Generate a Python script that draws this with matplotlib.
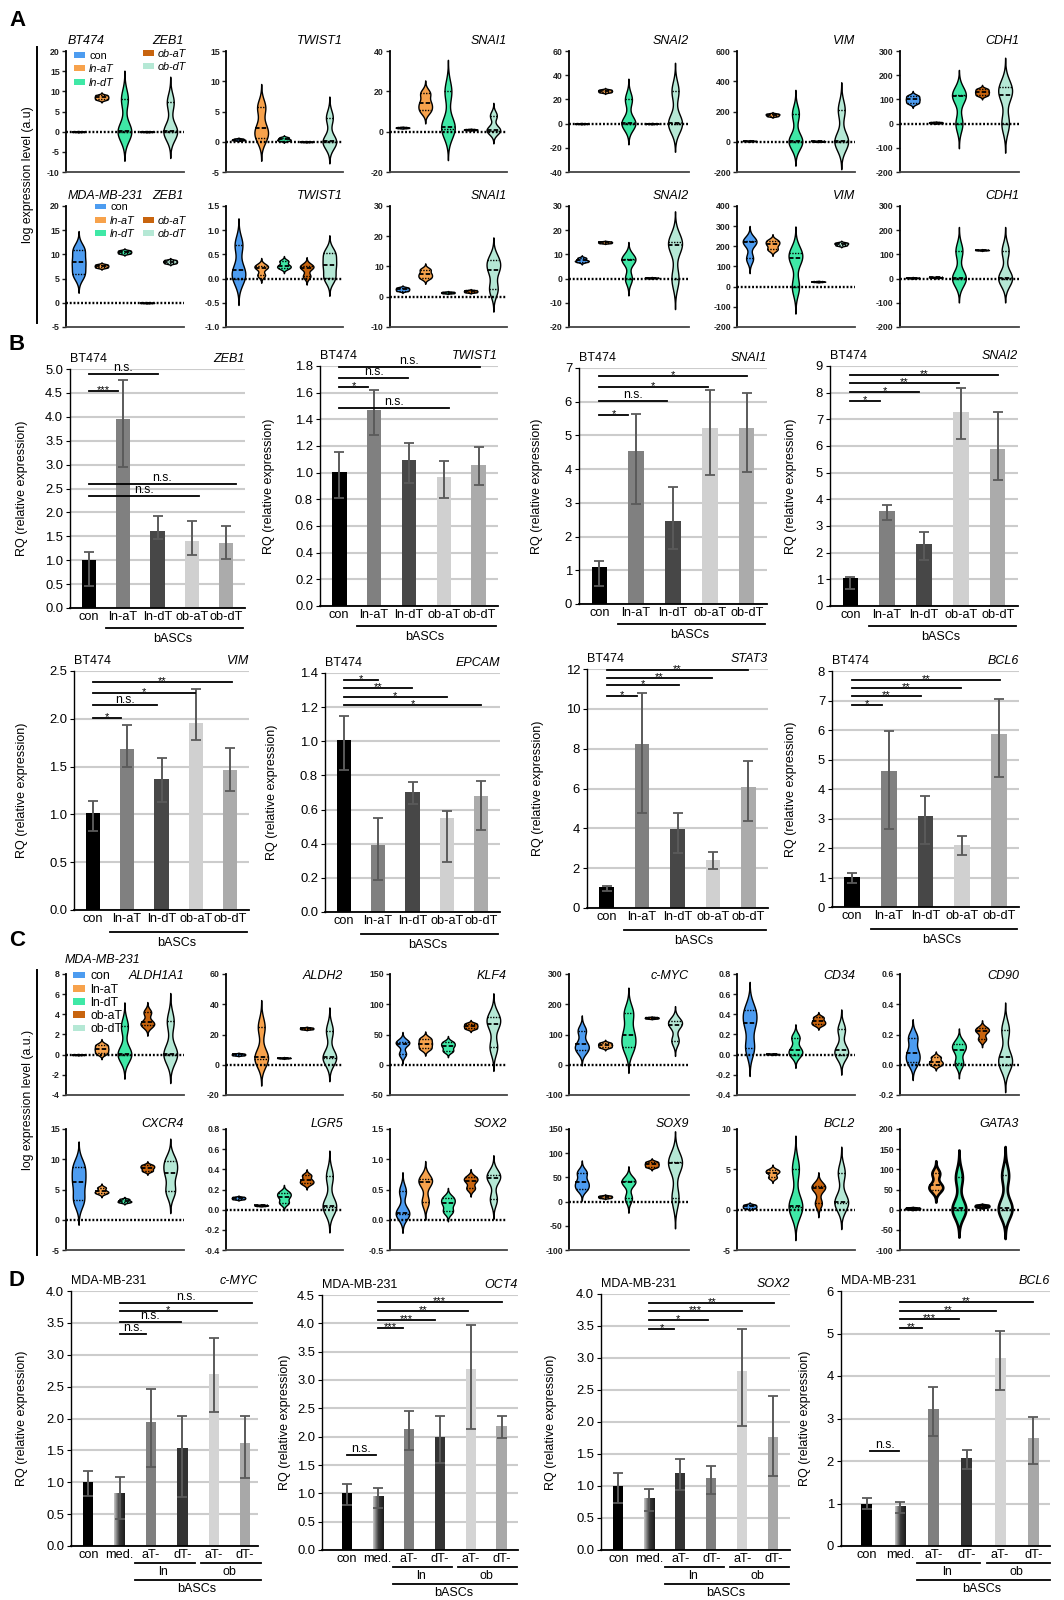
import numpy as np
import matplotlib
matplotlib.use('Agg')
import matplotlib.pyplot as plt
from matplotlib.patches import Patch
from matplotlib.lines import Line2D
from matplotlib.colors import LinearSegmentedColormap

plt.rcParams['font.family'] = ['Liberation Sans', 'DejaVu Sans']
plt.rcParams['axes.unicode_minus'] = False

# ---------------- data ----------------
groups = ['con', 'ln-aT', 'ln-dT', 'ob-aT', 'ob-dT']

# panel A, BT474: three replicate values per group (con, ln-aT, ln-dT, ob-aT, ob-dT)
a1_genes = ['ZEB1', 'TWIST1', 'SNAI1', 'SNAI2', 'VIM', 'CDH1']
a1_ZEB1 = [[0, 0, 0], [8.0, 8.5, 9.0], [-0.2, 0.2, 8.1], [0, 0, 0], [-0.2, 0.2, 7.3]]
a1_TWIST1 = [[0.25, 0.35, 0.5], [0.7, 2.2, 5.7], [0.2, 0.4, 0.7], [0, 0, 0], [-0.1, 0.1, 4.0]]
a1_SNAI1 = [[1.8, 2.0, 2.2], [10.5, 14, 19], [1.5, 2.5, 20], [0.8, 1.0, 1.2], [0.5, 1.0, 8.0]]
a1_SNAI2 = [[0, 0, 0], [26, 27, 28], [0, 0.5, 20], [0, 0, 0], [0, 0.3, 27]]
a1_VIM = [[4, 5, 6], [170, 178, 185], [0, 5, 185], [2, 3, 4], [0, 5, 212]]
a1_CDH1 = [[86, 100, 114], [2, 4, 6], [0, 115, 120], [118, 130, 142], [0, 120, 152]]

# panel A, MDA-MB-231
a2_genes = ['ZEB1', 'TWIST1', 'SNAI1', 'SNAI2', 'VIM', 'CDH1']
a2_ZEB1 = [[5.9, 8.4, 11], [7.3, 7.6, 7.9], [10.2, 10.5, 10.8], [0, 0, 0], [8.2, 8.5, 8.8]]
a2_TWIST1 = [[0.0, 0.18, 0.7], [0.07, 0.22, 0.27], [0.22, 0.27, 0.36], [0.05, 0.22, 0.27], [0.02, 0.28, 0.52]]
a2_SNAI1 = [[2.0, 2.5, 3.0], [6.3, 7.5, 9.0], [1.2, 1.4, 1.6], [1.5, 1.8, 2.1], [2.5, 9.0, 12.2]]
a2_SNAI2 = [[7.0, 7.5, 8.5], [14.7, 15, 15.3], [0, 7.8, 8.2], [0.2, 0.3, 0.4], [0, 13.8, 15.2]]
a2_VIM = [[140, 220, 228], [185, 210, 228], [0, 140, 165], [24, 25, 26], [205, 212, 218]]
a2_CDH1 = [[2, 3, 4], [4, 5, 6], [0, 3, 115], [117, 118, 119], [0, 3, 115]]

# panel C, MDA-MB-231
c1_genes = ['ALDH1A1', 'ALDH2', 'KLF4', 'c-MYC', 'CD34', 'CD90']
c1_ALDH1A1 = [[0, 0, 0], [0.15, 0.55, 0.95], [0, 0.1, 2.8], [2.9, 3.2, 4.2], [0, 0.1, 3.3]]
c1_ALDH2 = [[6.3, 6.8, 7.3], [4, 5, 25], [4.3, 4.5, 4.7], [23.5, 24, 24.5], [4.5, 5, 22.5]]
c1_KLF4 = [[18, 35, 38], [27, 35, 43], [23, 31, 37], [60, 64, 68], [29, 67, 79]]
c1_cMYC = [[48, 67, 113], [58, 65, 72], [58, 100, 170], [153, 155, 157], [80, 133, 143]]
c1_CD34 = [[0.07, 0.31, 0.44], [0.003, 0.005, 0.007], [0.0, 0.05, 0.17], [0.30, 0.33, 0.37], [0.0, 0.05, 0.25]]
c1_CD90 = [[0.02, 0.08, 0.18], [0.0, 0.02, 0.05], [0.01, 0.10, 0.14], [0.17, 0.22, 0.24], [0.0, 0.05, 0.23]]

c2_genes = ['CXCR4', 'LGR5', 'SOX2', 'SOX9', 'BCL2', 'GATA3']
c2_CXCR4 = [[3.3, 6.3, 8.8], [4.4, 4.7, 5.3], [2.9, 3.1, 3.4], [8.1, 8.6, 9.0], [4.8, 7.8, 9.7]]
c2_LGR5 = [[0.105, 0.115, 0.125], [0.038, 0.042, 0.046], [0.07, 0.13, 0.17], [0.26, 0.29, 0.34], [0.03, 0.04, 0.33]]
c2_SOX2 = [[0.1, 0.11, 0.47], [0.3, 0.62, 0.67], [0.14, 0.27, 0.36], [0.52, 0.64, 0.70], [0.34, 0.69, 0.74]]
c2_SOX9 = [[27, 40, 60], [8, 10, 12], [7, 40, 43], [72, 77, 82], [8, 80, 82]]
c2_BCL2 = [[0.2, 0.4, 0.6], [4.0, 4.6, 4.9], [0.3, 0.5, 5.1], [0.8, 2.7, 2.9], [0.8, 1.0, 4.6]]
c2_GATA3 = [[2, 3, 4], [50, 60, 90], [0, 3, 80], [7, 9, 11], [0, 5, 85]]

# panel B, BT474 RQ: mean, lower and upper whisker
b_labels = ['con', 'ln-aT', 'ln-dT', 'ob-aT', 'ob-dT']
b_genes = ['ZEB1', 'TWIST1', 'SNAI1', 'SNAI2', 'VIM', 'EPCAM', 'STAT3', 'BCL6']
b_ZEB1 = [1.01, 3.96, 1.62, 1.40, 1.36]
b_ZEB1_lo = [0.47, 2.96, 1.45, 1.11, 1.02]
b_ZEB1_hi = [1.18, 4.76, 1.92, 1.82, 1.72]
b_TWIST1 = [1.005, 1.47, 1.095, 0.97, 1.06]
b_TWIST1_lo = [0.81, 1.285, 0.92, 0.81, 0.91]
b_TWIST1_hi = [1.155, 1.62, 1.22, 1.09, 1.19]
b_SNAI1 = [1.10, 4.53, 2.46, 5.22, 5.22]
b_SNAI1_lo = [0.53, 2.97, 1.64, 3.83, 3.92]
b_SNAI1_hi = [1.28, 5.63, 3.48, 6.35, 6.27]
b_SNAI2 = [1.04, 3.58, 2.33, 7.28, 5.90]
b_SNAI2_lo = [0.62, 3.22, 1.71, 6.28, 4.73]
b_SNAI2_hi = [1.10, 3.80, 2.78, 8.18, 7.28]
b_VIM = [1.01, 1.68, 1.37, 1.96, 1.46]
b_VIM_lo = [0.83, 1.50, 1.13, 1.78, 1.25]
b_VIM_hi = [1.14, 1.93, 1.59, 2.31, 1.69]
b_EPCAM = [1.01, 0.39, 0.70, 0.55, 0.68]
b_EPCAM_lo = [0.83, 0.19, 0.63, 0.29, 0.48]
b_EPCAM_hi = [1.15, 0.55, 0.76, 0.59, 0.77]
b_STAT3 = [1.03, 8.25, 3.95, 2.40, 6.10]
b_STAT3_lo = [0.85, 4.75, 2.78, 1.95, 4.37]
b_STAT3_hi = [1.12, 10.8, 4.78, 2.82, 7.40]
b_BCL6 = [1.03, 4.62, 3.09, 2.11, 5.86]
b_BCL6_lo = [0.80, 2.65, 2.15, 1.75, 4.40]
b_BCL6_hi = [1.14, 5.95, 3.75, 2.40, 7.05]

# significance brackets: (from group, to group, height, label)
b_ZEB1_sig = [(0, 0.85, 4.53, '***'), (0, 2.0, 4.9, 'n.s.'), (0, 4.28, 2.6, 'n.s.'), (0, 3.2, 2.35, 'n.s.')]
b_TWIST1_sig = [(0, 0.82, 1.645, '*'), (0, 1.97, 1.7125, 'n.s.'), (0, 4.03, 1.795, 'n.s.'), (0, 3.14, 1.4875, 'n.s.')]
b_SNAI1_sig = [(0, 0.78, 5.62, '*'), (0, 1.85, 6.02, 'n.s.'), (0, 2.94, 6.45, '*'), (0, 4.0, 6.77, '*')]
b_SNAI2_sig = [(0, 0.8, 7.7, '*'), (0, 1.87, 8.03, '*'), (0, 2.95, 8.35, '**'), (0, 4.02, 8.66, '**')]
b_VIM_sig = [(0, 0.81, 2.005, '*'), (0, 1.87, 2.14, 'n.s.'), (0, 2.97, 2.27, '*'), (0, 4.05, 2.38, '**')]
b_EPCAM_sig = [(0, 0.98, 1.36, '*'), (0, 1.99, 1.31, '**'), (0, 3.0, 1.26, '*'), (0, 4.0, 1.21, '*')]
b_STAT3_sig = [(0, 0.85, 10.66, '*'), (0, 2.05, 11.18, '*'), (0, 2.98, 11.53, '**'), (0, 4.0, 11.95, '**')]
b_BCL6_sig = [(0, 0.8, 6.84, '*'), (0, 1.88, 7.14, '**'), (0, 2.97, 7.43, '**'), (0, 4.03, 7.71, '**')]

# panel D, MDA-MB-231 RQ
d_labels = ['con', 'med.', 'aT-', 'dT-', 'aT-', 'dT-']
d_genes = ['c-MYC', 'OCT4', 'SOX2', 'BCL6']
d_cMYC = [1.00, 0.82, 1.95, 1.53, 2.70, 1.62]
d_cMYC_lo = [0.78, 0.43, 1.24, 0.77, 2.10, 1.07]
d_cMYC_hi = [1.18, 1.08, 2.47, 2.04, 3.26, 2.04]
d_OCT4 = [1.00, 0.94, 2.14, 2.00, 3.20, 2.18]
d_OCT4_lo = [0.80, 0.74, 1.77, 1.54, 2.13, 1.98]
d_OCT4_hi = [1.17, 1.10, 2.45, 2.36, 3.97, 2.37]
d_SOX2 = [1.00, 0.80, 1.20, 1.12, 2.80, 1.77]
d_SOX2_lo = [0.74, 0.61, 0.93, 0.88, 1.94, 1.16]
d_SOX2_hi = [1.21, 0.96, 1.42, 1.31, 3.45, 2.40]
d_BCL6 = [1.00, 0.92, 3.22, 2.06, 4.42, 2.54]
d_BCL6_lo = [0.87, 0.78, 2.58, 1.82, 3.68, 1.93]
d_BCL6_hi = [1.12, 1.04, 3.74, 2.27, 5.05, 3.04]

d_cMYC_sig = [(1, 1.84, 3.33, 'n.s.'), (1, 2.95, 3.51, 'n.s.'), (1, 4.11, 3.68, '*'), (1, 5.23, 3.81, 'n.s.')]
d_OCT4_sig = [(0, 0.95, 1.68, 'n.s.'), (1, 1.8, 3.91, '***'), (1, 2.85, 4.06, '***'), (1, 3.92, 4.22, '**'), (1, 5.0, 4.37, '***')]
d_SOX2_sig = [(1, 1.8, 3.46, '*'), (1, 2.88, 3.6, '*'), (1, 3.98, 3.74, '***'), (1, 5.03, 3.86, '**')]
d_BCL6_sig = [(0.1, 0.98, 2.24, 'n.s.'), (1, 1.67, 5.13, '**'), (1, 2.78, 5.33, '***'), (1, 3.88, 5.54, '**'), (1, 4.99, 5.73, '**')]

# ---------------- style / layout ----------------
W, H = 1064, 1600
vcol = ['#4d9cf0', '#f7a24c', '#3fe8a6', '#c8640e', '#b5e8d5']
bcol = ['#000000', '#808080', '#474747', '#d0d0d0', '#ababab']
dcol = ['#000000', 'grad', '#7f7f7f', '#333333', '#d4d4d4', '#a8a8a8']
dcol_sox2 = ['#000000', 'grad', '#333333', '#7f7f7f', '#d4d4d4', '#a8a8a8']

fig = plt.figure(figsize=(W / 100, H / 100), dpi=100)


def add_ax(l, r, t, b):
    return fig.add_axes([l / W, 1 - b / H, (r - l) / W, (b - t) / H])


def hpx(ax):
    return ax.get_position().height * H


def tick_fmt(ticks, step):
    out = []
    for t in ticks:
        t = round(float(t), 6) + 0.0
        out.append('%d' % round(t) if float(step).is_integer() else '%.1f' % t)
    return out


def draw_violins(ax, data, lim, gene, title_px, edge_lw=1.0):
    lo, hi, step = lim
    for i, vals in enumerate(data):
        v = np.asarray(vals, float)
        bw = max(0.5 * v.std(ddof=1), (hi - lo) * 0.002)
        ys = np.linspace(v.min() - 3 * bw, v.max() + 3 * bw, 300)
        dens = np.exp(-0.5 * ((ys[:, None] - v[None, :]) / bw) ** 2).sum(axis=1)
        half = dens / dens.max() * 0.3
        x = i + 1
        ax.fill_betweenx(ys, x - half, x + half, facecolor=vcol[i],
                         edgecolor='black', lw=edge_lw, zorder=2)
        q1, med, q3 = np.percentile(v, [25, 50, 75], method='weibull')
        for q, ls, lw in ((q1, (0, (1, 1)), 1.0), (q3, (0, (1, 1)), 1.0),
                          (med, (0, (2.5, 1.2)), 1.3)):
            hw = np.interp(q, ys, half)
            ax.plot([x - hw, x + hw], [q, q], color='black', ls=ls, lw=lw, zorder=3)
    ax.axhline(0, color='black', lw=1.7, ls=(0, (0.8, 0.8)), zorder=4)
    ax.set_xlim(0.45, 5.6)
    ax.set_ylim(lo, hi)
    ticks = np.arange(lo, hi + step / 2, step)
    ax.set_yticks(ticks, tick_fmt(ticks, step))
    ax.set_xticks([])
    for s in ['top', 'right']:
        ax.spines[s].set_visible(False)
    ax.spines['left'].set_linewidth(1.3)
    ax.spines['bottom'].set_linewidth(1.3)
    ax.spines['bottom'].set_color('#444444')
    ax.tick_params(axis='y', length=3, width=1, labelsize=6.3, pad=1.5, colors='#222222')
    for lab in ax.get_yticklabels():
        lab.set_fontweight('bold')
    ax.text(1.0, 1 + title_px / hpx(ax), gene, transform=ax.transAxes, ha='right',
            va='center', style='italic', fontsize=9)


def draw_bars(ax, labels, means, lo, hi, colors, lim, cell, gene, sigs, width, xlim, ylab_px):
    ytop, step = lim
    x = np.arange(len(means))
    means = np.asarray(means)
    lo = np.asarray(lo)
    hi = np.asarray(hi)
    fc = ['none' if c == 'grad' else c for c in colors]
    ax.bar(x, means, width=width, color=fc, zorder=2)
    for i, c in enumerate(colors):
        if c == 'grad':
            cm = LinearSegmentedColormap.from_list('g', ['#c8c8c8', '#3a3a3a', '#1c1c1c'])
            ax.imshow(np.linspace(0, 1, 64).reshape(1, -1), cmap=cm, aspect='auto',
                      extent=[x[i] - width / 2, x[i] + width / 2, 0, means[i]],
                      zorder=2, interpolation='bilinear')
    ax.errorbar(x, means, yerr=[means - lo, hi - means], fmt='none', ecolor='#5a5a5a',
                elinewidth=1.4, capsize=3.5, capthick=1.3, zorder=3)
    ax.set_xlim(*xlim)
    ax.set_ylim(0, ytop)
    ticks = np.arange(0, ytop + step / 2, step)
    ax.set_yticks(ticks, tick_fmt(ticks, step))
    ax.yaxis.grid(True, color='#cccccc', lw=1.5)
    ax.set_axisbelow(True)
    ax.set_xticks(x, labels)
    for s in ['top', 'right']:
        ax.spines[s].set_visible(False)
    ax.spines['left'].set_linewidth(1.0)
    ax.spines['bottom'].set_linewidth(1.3)
    ax.tick_params(axis='x', length=0, pad=2.5, labelsize=9.2)
    ax.tick_params(axis='y', length=3, width=0.8, labelsize=9.4, pad=2)
    ax.set_ylabel('RQ (relative expression)', fontsize=9)
    ax.yaxis.set_label_coords(-ylab_px / (ax.get_position().width * W), 0.5)
    h = hpx(ax)
    ax.text(0, 1 + 10 / h, cell, transform=ax.transAxes, ha='left', va='center', fontsize=9)
    ax.text(1, 1 + 10 / h, gene, transform=ax.transAxes, ha='right', va='center',
            fontsize=9, style='italic')
    for x0, x1, y, lab in sigs:
        ax.plot([x0, x1], [y, y], color='black', lw=1.3, clip_on=False, zorder=4)
        ns = lab == 'n.s.'
        ax.annotate(lab, xy=((x0 + x1) / 2, y), xytext=(0, 2 if ns else -1.5),
                    textcoords='offset points', ha='center', va='baseline',
                    fontsize=8.8 if ns else 8, annotation_clip=False)


def bottom_line(ax, x0, x1, px, text=None, tx=None, tpx=None):
    tr = ax.get_xaxis_transform()
    h = hpx(ax)
    ax.plot([x0, x1], [-px / h, -px / h], transform=tr, color='black', lw=1.3, clip_on=False)
    if text:
        ax.text(tx, -tpx / h, text, transform=tr, ha='center', va='center', fontsize=9)


# ---------------- panels A and C (violins) ----------------
vcols = [(66, 184), (226, 343), (390, 507), (569, 689), (737, 855), (900, 1019)]
a1_lims = [(-10, 20, 5), (-5, 15, 5), (-20, 40, 20), (-40, 60, 20), (-200, 600, 200), (-200, 300, 100)]
a2_lims = [(-5, 20, 5), (-1.0, 1.5, 0.5), (-10, 30, 10), (-20, 30, 10), (-200, 400, 100), (-200, 300, 100)]
c1_lims = [(-4, 8, 2), (-20, 60, 20), (-50, 150, 50), (-100, 300, 100), (-0.4, 0.8, 0.2), (-0.2, 0.6, 0.2)]
c2_lims = [(-5, 15, 5), (-0.4, 0.8, 0.2), (-0.5, 1.5, 0.5), (-100, 150, 50), (-5, 10, 5), (-100, 200, 50)]

violin_rows = [
    ((51, 172), [a1_ZEB1, a1_TWIST1, a1_SNAI1, a1_SNAI2, a1_VIM, a1_CDH1], a1_genes, a1_lims, 10),
    ((206, 327), [a2_ZEB1, a2_TWIST1, a2_SNAI1, a2_SNAI2, a2_VIM, a2_CDH1], a2_genes, a2_lims, 10),
    ((974, 1095), [c1_ALDH1A1, c1_ALDH2, c1_KLF4, c1_cMYC, c1_CD34, c1_CD90], c1_genes, c1_lims, -2),
    ((1129, 1250), [c2_CXCR4, c2_LGR5, c2_SOX2, c2_SOX9, c2_BCL2, c2_GATA3], c2_genes, c2_lims, 5),
]
vaxes = []
for (t, b), datas, genes, lims, tpx in violin_rows:
    row = []
    for (l, r), d, g, lim in zip(vcols, datas, genes, lims):
        ax = add_ax(l, r, t, b)
        draw_violins(ax, d, lim, g, tpx, edge_lw=1.9 if g == 'GATA3' else 1.0)
        row.append(ax)
    vaxes.append(row)

# legends
handles = [Patch(facecolor=c, edgecolor='none') for c in vcol]
leg_kw = dict(frameon=False, borderpad=0, borderaxespad=0, handlelength=1.0,
              handleheight=0.45, handletextpad=0.4, loc='upper left')
ax = vaxes[0][0]
l1 = ax.legend(handles[:3], groups[:3], bbox_to_anchor=(0.068, 1.0), fontsize=7.8,
               labelspacing=0.3, **leg_kw)
for t in l1.get_texts()[1:]:
    t.set_style('italic')
ax.add_artist(l1)
l2 = ax.legend(handles[3:], groups[3:], bbox_to_anchor=(0.65, 1.02), fontsize=7.8,
               labelspacing=0.3, **leg_kw)
for t in l2.get_texts():
    t.set_style('italic')
ax.text(0.017, 1 + 10 / hpx(ax), 'BT474', transform=ax.transAxes, ha='left', va='center',
        style='italic', fontsize=9)

ax = vaxes[1][0]
l1 = ax.legend(handles[:3], groups[:3], bbox_to_anchor=(0.245, 1.03), fontsize=7.8,
               labelspacing=0.3, **leg_kw)
for t in l1.get_texts()[1:]:
    t.set_style('italic')
ax.add_artist(l1)
l2 = ax.legend(handles[3:], groups[3:], bbox_to_anchor=(0.65, 0.92), fontsize=7.8,
               labelspacing=0.3, **leg_kw)
for t in l2.get_texts():
    t.set_style('italic')
ax.text(0.017, 1 + 10 / hpx(ax), 'MDA-MB-231', transform=ax.transAxes, ha='left',
        va='center', style='italic', fontsize=9)

ax = vaxes[2][0]
ax.legend(handles, groups, bbox_to_anchor=(0.06, 1.03), fontsize=8.8, labelspacing=0.1, **leg_kw)
fig.text(65 / W, 1 - 960 / H, 'MDA-MB-231', ha='left', va='center', style='italic', fontsize=9)

# ---------------- panels B and D (bars) ----------------
b_rects = [(70, 245, 369, 608), (320, 498, 366, 606), (579, 767, 368, 604), (830, 1018, 366, 606),
           (74, 249, 671, 910), (325, 500, 673, 912), (587, 768, 669, 908), (832, 1019, 671, 907)]
b_lims = [(5, 0.5), (1.8, 0.2), (7, 1), (9, 1), (2.5, 0.5), (1.4, 0.2), (12, 2), (8, 1)]
b_ylab = [42, 45, 36, 33, 46, 47, 43, 35]
b_sets = [(b_ZEB1, b_ZEB1_lo, b_ZEB1_hi, b_ZEB1_sig),
          (b_TWIST1, b_TWIST1_lo, b_TWIST1_hi, b_TWIST1_sig),
          (b_SNAI1, b_SNAI1_lo, b_SNAI1_hi, b_SNAI1_sig),
          (b_SNAI2, b_SNAI2_lo, b_SNAI2_hi, b_SNAI2_sig),
          (b_VIM, b_VIM_lo, b_VIM_hi, b_VIM_sig),
          (b_EPCAM, b_EPCAM_lo, b_EPCAM_hi, b_EPCAM_sig),
          (b_STAT3, b_STAT3_lo, b_STAT3_hi, b_STAT3_sig),
          (b_BCL6, b_BCL6_lo, b_BCL6_hi, b_BCL6_sig)]
for k, ((l, r, t, b), (m, lo, hi, sig), g) in enumerate(zip(b_rects, b_sets, b_genes)):
    ax = add_ax(l, r, t, b)
    draw_bars(ax, b_labels, m, lo, hi, bcol, b_lims[k], 'BT474', g, sig, 0.42,
              (-0.55, 4.55), b_ylab[k])
    off = 0 if k < 4 else 2
    bottom_line(ax, 0.5, 4.5, 20 + off, 'bASCs', 2.45, 31 + off)

d_rects = [(71, 258, 1291, 1546), (322, 518, 1295, 1550), (601, 790, 1294, 1550), (841, 1050, 1291, 1546)]
d_lims = [(4, 0.5), (4.5, 0.5), (4, 0.5), (6, 1)]
d_xlims = [(-0.55, 5.41), (-0.8, 5.53), (-0.56, 5.54), (-0.77, 5.5)]
d_ylab = [43, 31, 44, 30]
d_sets = [(d_cMYC, d_cMYC_lo, d_cMYC_hi, d_cMYC_sig, dcol),
          (d_OCT4, d_OCT4_lo, d_OCT4_hi, d_OCT4_sig, dcol),
          (d_SOX2, d_SOX2_lo, d_SOX2_hi, d_SOX2_sig, dcol_sox2),
          (d_BCL6, d_BCL6_lo, d_BCL6_hi, d_BCL6_sig, dcol)]
for k, ((l, r, t, b), (m, lo, hi, sig, cols), g) in enumerate(zip(d_rects, d_sets, d_genes)):
    ax = add_ax(l, r, t, b)
    draw_bars(ax, d_labels, m, lo, hi, cols, d_lims[k], 'MDA-MB-231', g, sig, 0.33,
              d_xlims[k], d_ylab[k])
    bottom_line(ax, 1.5, 3.4, 17, 'ln', 2.4, 26)
    bottom_line(ax, 3.6, 5.5, 17, 'ob', 4.5, 26)
    bottom_line(ax, 1.5, 5.5, 34, 'bASCs', 3.45, 43)

# ---------------- figure-level labels ----------------
for lab, y in (('A', 20), ('B', 345), ('C', 940), ('D', 1281)):
    fig.text(17 / W, 1 - y / H, lab, ha='center', va='center', fontsize=16, fontweight='bold')
fig.text(28 / W, 1 - 175 / H, 'log expression level (a.u)', rotation=90, ha='center',
         va='center', fontsize=8.8)
fig.text(28 / W, 1 - 1100 / H, 'log expression level (a.u.)', rotation=90, ha='center',
         va='center', fontsize=8.8)
fig.add_artist(Line2D([37 / W, 37 / W], [1 - 47 / H, 1 - 323 / H], color='black', lw=1.4))
fig.add_artist(Line2D([37 / W, 37 / W], [1 - 970 / H, 1 - 1255 / H], color='black', lw=1.4))

fig.savefig('out.png', dpi=100)
